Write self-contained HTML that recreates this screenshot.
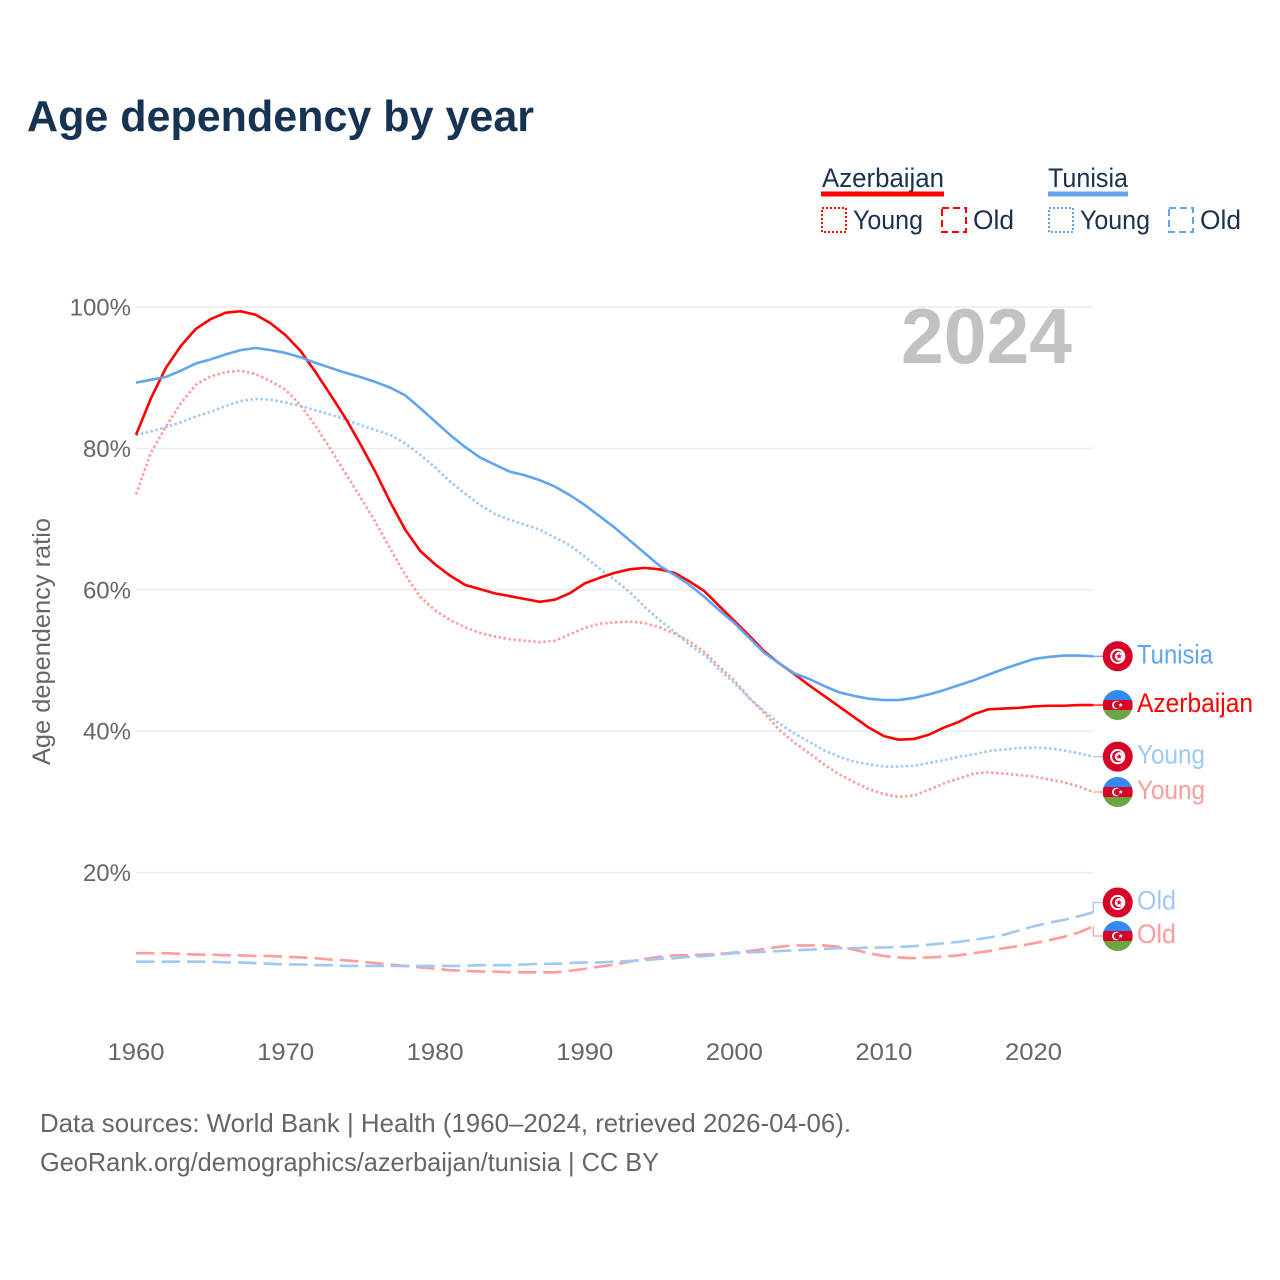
<!DOCTYPE html>
<html lang="en">
<head>
<meta charset="utf-8">
<title>Age dependency by year</title>
<style>
html,body{margin:0;padding:0;background:#fff;width:1280px;height:1280px;overflow:hidden}
svg{display:block;font-family:"Liberation Sans",sans-serif}
</style>
</head>
<body>
<svg id="chart" xmlns="http://www.w3.org/2000/svg" width="1280" height="1280" viewBox="0 0 1280 1280">
  <defs>
    <clipPath id="flag-clip"><circle cx="0" cy="0" r="15"/></clipPath>
    <g id="flag-tn">
      <circle r="15" fill="#d80027"/>
      <circle r="7.6" fill="#fff"/>
      <circle r="5.6" fill="#d80027"/>
      <circle cx="1.6" r="4.5" fill="#fff"/>
      <polygon points="1.4,-3 2.2,-1 4.3,-1 2.7,0.4 3.3,2.5 1.4,1.3 -0.5,2.5 0.1,0.4 -1.5,-1 0.6,-1" fill="#d80027"/>
    </g>
    <g id="flag-az">
      <g clip-path="url(#flag-clip)">
        <rect x="-15" y="-15" width="30" height="10" fill="#338af3"/>
        <rect x="-15" y="-5" width="30" height="10" fill="#d80027"/>
        <rect x="-15" y="5" width="30" height="10" fill="#6da544"/>
      </g>
      <circle cx="-1.5" r="4.2" fill="#fff"/>
      <circle cx="-0.4" r="3.4" fill="#d80027"/>
      <polygon points="3,-2.4 3.6,-0.8 5.3,-0.8 4,0.3 4.5,2 3,1 1.5,2 2,0.3 0.7,-0.8 2.4,-0.8" fill="#fff"/>
    </g>
  </defs>

  <text x="27" y="131" font-size="44" font-weight="700" fill="#163354" textLength="507" lengthAdjust="spacingAndGlyphs">Age dependency by year</text>

  <g>
    <g>
      <text x="822" y="187" font-size="27" fill="#1a3150" textLength="122" lengthAdjust="spacingAndGlyphs">Azerbaijan</text>
      <rect x="821" y="191.5" width="123" height="5" fill="#ff0000"/>
      <rect x="822" y="208" width="24" height="24" fill="none" stroke="#ff0000" stroke-width="2" stroke-dasharray="2 2"/>
      <text x="853" y="229" font-size="27" fill="#1a3150" textLength="70" lengthAdjust="spacingAndGlyphs">Young</text>
      <rect x="942" y="208" width="24" height="24" fill="none" stroke="#ff0000" stroke-width="2" stroke-dasharray="7 4"/>
      <text x="973" y="229" font-size="27" fill="#1a3150" textLength="41" lengthAdjust="spacingAndGlyphs">Old</text>
    </g>
    <g>
      <text x="1048" y="187" font-size="27" fill="#1a3150" textLength="80" lengthAdjust="spacingAndGlyphs">Tunisia</text>
      <rect x="1048" y="191.5" width="80" height="5" fill="#60a5ee"/>
      <rect x="1049" y="208" width="24" height="24" fill="none" stroke="#60a5ee" stroke-width="2" stroke-dasharray="2 2"/>
      <text x="1080" y="229" font-size="27" fill="#1a3150" textLength="70" lengthAdjust="spacingAndGlyphs">Young</text>
      <rect x="1169" y="208" width="24" height="24" fill="none" stroke="#60a5ee" stroke-width="2" stroke-dasharray="7 4"/>
      <text x="1200" y="229" font-size="27" fill="#1a3150" textLength="41" lengthAdjust="spacingAndGlyphs">Old</text>
    </g>
  </g>

  <text transform="translate(50,765) rotate(-90)" x="0" y="0" font-size="25" fill="#666666" textLength="247" lengthAdjust="spacingAndGlyphs">Age dependency ratio</text>

  <g id="grid"></g>
  <g id="y-ticks"></g>
  <g id="x-ticks"></g>

  <text x="901" y="363" font-size="78" font-weight="700" fill="#c2c2c2" textLength="171" lengthAdjust="spacingAndGlyphs">2024</text>

  <g id="series"></g>
  <g id="end-labels"></g>

  <text x="40" y="1132" font-size="26" fill="#666666" textLength="811" lengthAdjust="spacingAndGlyphs">Data sources: World Bank | Health (1960–2024, retrieved 2026-04-06).</text>
  <text x="40" y="1171" font-size="26" fill="#666666" textLength="619" lengthAdjust="spacingAndGlyphs">GeoRank.org/demographics/azerbaijan/tunisia | CC BY</text>
</svg>

<script>
const years = [1960,1961,1962,1963,1964,1965,1966,1967,1968,1969,
1970,1971,1972,1973,1974,1975,1976,1977,1978,1979,
1980,1981,1982,1983,1984,1985,1986,1987,1988,1989,
1990,1991,1992,1993,1994,1995,1996,1997,1998,1999,
2000,2001,2002,2003,2004,2005,2006,2007,2008,2009,
2010,2011,2012,2013,2014,2015,2016,2017,2018,2019,
2020,2021,2022,2023,2024];

const azerbaijanTotal = [81.9,87.1,91.4,94.5,96.9,98.3,99.2,99.4,98.9,97.7,
96.0,93.8,90.8,87.6,84.3,80.6,76.7,72.4,68.5,65.5,
63.6,62.0,60.7,60.1,59.5,59.1,58.7,58.3,58.6,59.5,
60.9,61.7,62.4,62.9,63.1,62.9,62.4,61.2,59.8,57.7,
55.6,53.5,51.3,49.6,48.1,46.5,45.0,43.5,42.0,40.5,
39.3,38.8,38.9,39.5,40.5,41.3,42.4,43.1,43.2,43.3,
43.5,43.6,43.6,43.7,43.7];

const tunisiaTotal = [89.3,89.7,90.1,91.0,92.0,92.6,93.3,93.9,94.2,93.9,
93.5,92.9,92.1,91.4,90.7,90.1,89.4,88.6,87.5,85.7,
83.8,81.9,80.2,78.7,77.7,76.7,76.2,75.5,74.6,73.4,
72.0,70.4,68.8,67.0,65.2,63.4,62.1,60.7,59.0,57.1,
55.3,53.2,51.1,49.6,48.2,47.4,46.4,45.5,45.0,44.6,
44.4,44.4,44.7,45.2,45.8,46.5,47.2,48.0,48.8,49.5,
50.2,50.5,50.7,50.7,50.6];

const azerbaijanYoung = [73.5,79.4,83.1,86.4,89.0,90.2,90.8,91.0,90.5,89.5,
88.3,86.1,83.2,79.9,76.5,73.1,69.6,65.8,62.1,59.0,
57.1,55.7,54.7,53.9,53.4,53.0,52.8,52.6,52.8,53.7,
54.6,55.2,55.4,55.5,55.3,54.7,53.8,52.7,51.2,49.1,
47.2,44.7,42.6,40.2,38.4,36.9,35.3,33.9,32.8,31.8,
31.1,30.7,30.9,31.7,32.6,33.3,34.0,34.2,34.0,33.8,
33.6,33.2,32.8,32.2,31.4];

const tunisiaYoung = [81.9,82.4,83.0,83.7,84.5,85.2,86.0,86.7,87.0,86.9,
86.5,86.0,85.4,84.8,84.1,83.3,82.6,81.9,80.7,79.1,
77.3,75.3,73.6,72.0,70.7,69.9,69.2,68.5,67.4,66.3,
64.7,63.0,61.4,59.7,57.6,55.7,54.1,52.2,50.8,48.7,
46.8,44.7,42.8,41.1,39.7,38.5,37.3,36.4,35.7,35.3,
35.0,35.0,35.1,35.5,35.9,36.4,36.7,37.2,37.4,37.6,
37.7,37.6,37.3,36.9,36.4];

const azerbaijanOld = [8.6,8.6,8.6,8.5,8.4,8.4,8.3,8.3,8.2,8.2,
8.1,8.0,7.9,7.7,7.6,7.4,7.2,7.0,6.8,6.6,
6.4,6.2,6.1,6.0,6.0,5.9,5.9,5.9,5.9,6.1,
6.4,6.7,7.0,7.4,7.8,8.1,8.3,8.3,8.4,8.5,
8.7,8.9,9.2,9.5,9.7,9.7,9.7,9.5,9.1,8.6,
8.2,8.0,7.9,8.0,8.1,8.3,8.6,8.9,9.3,9.6,
10.0,10.4,10.9,11.5,12.4];

const tunisiaOld = [7.4,7.4,7.4,7.4,7.4,7.4,7.3,7.3,7.2,7.1,
7.0,7.0,6.9,6.9,6.8,6.8,6.8,6.8,6.8,6.8,
6.8,6.8,6.8,6.9,6.9,6.9,7.0,7.1,7.1,7.2,
7.3,7.3,7.4,7.5,7.6,7.8,7.9,8.1,8.2,8.4,
8.6,8.7,8.8,8.9,9.0,9.1,9.2,9.3,9.3,9.4,
9.4,9.5,9.6,9.8,10.0,10.2,10.5,10.8,11.2,11.8,
12.4,12.9,13.3,13.8,14.4];

const yTickValues = [20,40,60,80,100];
const xTickValues = [1960,1970,1980,1990,2000,2010,2020];

const SVG_NS = 'http://www.w3.org/2000/svg';
const xScale = function (year) { return 136 + (year - 1960) * (1093.3 - 136) / 64; };
const yScale = function (pct) { return 1014 - pct * 7.07; };

const seriesDefs = [
  { key: 'azerbaijan-old', values: azerbaijanOld, color: '#ff9c9c', dash: '18.5 7', flag: 'flag-az', label: 'Old', width: 39 },
  { key: 'tunisia-old', values: tunisiaOld, color: '#a0c8f4', dash: '18.5 7', flag: 'flag-tn', label: 'Old', width: 39 },
  { key: 'azerbaijan-young', values: azerbaijanYoung, color: '#ff9c9c', dash: '2.5 2.5', flag: 'flag-az', label: 'Young', width: 68 },
  { key: 'tunisia-young', values: tunisiaYoung, color: '#a0c8f4', dash: '2.5 2.5', flag: 'flag-tn', label: 'Young', width: 68 },
  { key: 'azerbaijan-total', values: azerbaijanTotal, color: '#ff0000', dash: null, flag: 'flag-az', label: 'Azerbaijan', width: 116 },
  { key: 'tunisia-total', values: tunisiaTotal, color: '#60a5ee', dash: null, flag: 'flag-tn', label: 'Tunisia', width: 76 }
];

const gridGroup = document.getElementById('grid');
const yTickGroup = document.getElementById('y-ticks');
const xTickGroup = document.getElementById('x-ticks');
const seriesGroup = document.getElementById('series');
const labelGroup = document.getElementById('end-labels');

yTickValues.forEach(function (tick) {
  const line = document.createElementNS(SVG_NS, 'line');
  
  
  line.setAttribute('x1', xScale(1960));
  line.setAttribute('x2', xScale(2024));
  line.setAttribute('y1', yScale(tick));
  line.setAttribute('y2', yScale(tick));
  line.setAttribute('stroke', '#ececec');
  line.setAttribute('stroke-width', '1.5');
  gridGroup.appendChild(line);

  const text = document.createElementNS(SVG_NS, 'text');
  
  
  text.setAttribute('x', 131);
  text.setAttribute('y', yScale(tick) + 8.5);
  text.setAttribute('text-anchor', 'end');
  text.setAttribute('font-size', '24');
  text.setAttribute('fill', '#666666');
  text.textContent = tick + '%';
  yTickGroup.appendChild(text);
});

xTickValues.forEach(function (tick) {
  const text = document.createElementNS(SVG_NS, 'text');
  
  
  text.setAttribute('x', xScale(tick));
  text.setAttribute('y', 1060);
  text.setAttribute('text-anchor', 'middle');
  text.setAttribute('font-size', '24');
  text.setAttribute('fill', '#666666');
  text.setAttribute('textLength', '57');
  text.setAttribute('lengthAdjust', 'spacingAndGlyphs');
  text.textContent = String(tick);
  xTickGroup.appendChild(text);
});

seriesDefs.forEach(function (s) {
  const path = document.createElementNS(SVG_NS, 'path');
  
  
  const d = s.values.map(function (v, i) {
    return (i ? 'L' : 'M') + xScale(years[i]).toFixed(2) + ' ' + yScale(v).toFixed(2);
  }).join('');
  path.setAttribute('d', d);
  path.setAttribute('fill', 'none');
  path.setAttribute('stroke', s.color);
  path.setAttribute('stroke-width', '2.6');
  path.setAttribute('stroke-linejoin', 'round');
  if (s.dash) { path.setAttribute('stroke-dasharray', s.dash); }
  seriesGroup.appendChild(path);
});

const minGap = 33.5;
const placed = seriesDefs.map(function (s) {
  const endY = yScale(s.values[s.values.length - 1]);
  return { def: s, endY: endY, labelY: endY };
}).sort(function (a, b) { return a.endY - b.endY; });
for (let pass = 0; pass < 20; pass++) {
  for (let i = 1; i < placed.length; i++) {
    const gap = placed[i].labelY - placed[i - 1].labelY;
    if (gap < minGap) {
      const push = (minGap - gap) / 2;
      placed[i - 1].labelY -= push;
      placed[i].labelY += push;
    }
  }
}

placed.forEach(function (p) {
  const s = p.def;
  const endX = xScale(2024);

  const connector = document.createElementNS(SVG_NS, 'path');
  
  
  connector.setAttribute('d', 'M' + endX + ' ' + p.endY + 'L' + endX + ' ' + p.labelY + 'L1103 ' + p.labelY);
  connector.setAttribute('fill', 'none');
  connector.setAttribute('stroke', s.color);
  connector.setAttribute('stroke-width', '1.3');
  labelGroup.appendChild(connector);

  const flag = document.createElementNS(SVG_NS, 'use');
  
  
  flag.setAttribute('href', '#' + s.flag);
  flag.setAttribute('transform', 'translate(1117.7,' + p.labelY + ')');
  labelGroup.appendChild(flag);

  const text = document.createElementNS(SVG_NS, 'text');
  
  
  text.setAttribute('x', 1137);
  text.setAttribute('y', p.labelY + 7);
  text.setAttribute('font-size', '27');
  text.setAttribute('fill', s.color);
  text.setAttribute('textLength', s.width);
  text.setAttribute('lengthAdjust', 'spacingAndGlyphs');
  text.textContent = s.label;
  labelGroup.appendChild(text);
});
</script>
</body>
</html>
